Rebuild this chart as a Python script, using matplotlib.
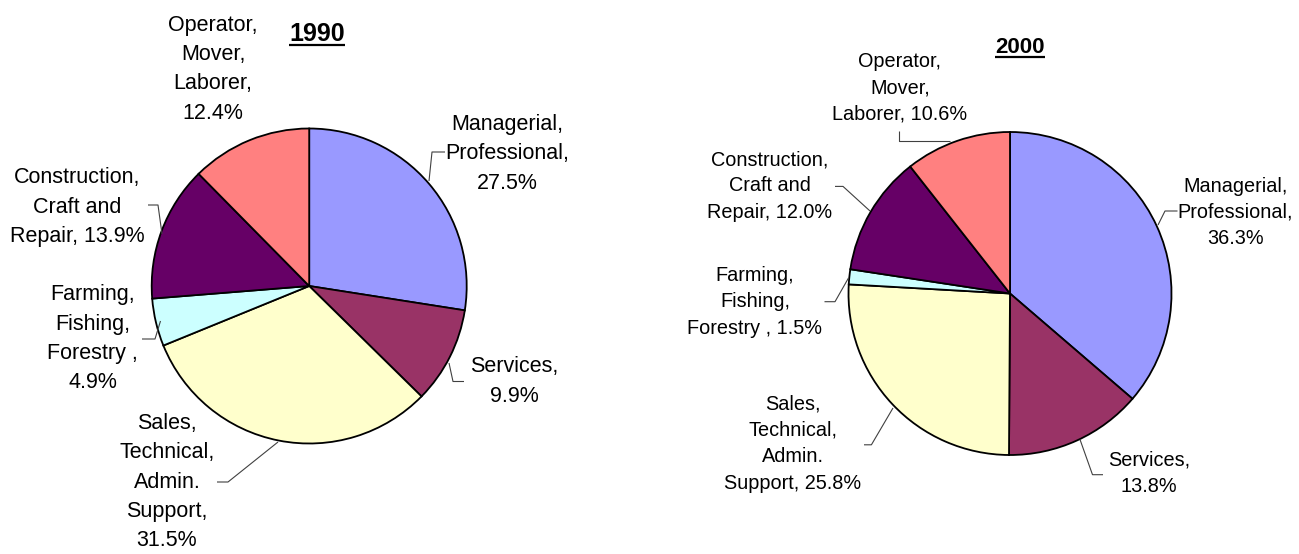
import matplotlib
matplotlib.use("Agg")
import matplotlib.pyplot as plt
from matplotlib.patches import Rectangle

W, H = 1299, 554

# Occupational shares of employment (percent)
categories = [
    "Managerial, Professional",
    "Services",
    "Sales, Technical, Admin. Support",
    "Farming, Fishing, Forestry",
    "Construction, Craft and Repair",
    "Operator, Mover, Laborer",
]
shares_1990 = [27.5, 9.9, 31.5, 4.9, 13.9, 12.4]
shares_2000 = [36.3, 13.8, 25.8, 1.5, 12.0, 10.6]
slice_colors = ["#9999FF", "#993366", "#FFFFCC", "#CCFFFF", "#660066", "#FF8080"]

# Data-label wording with line breaks; {v} receives the share
label_formats_1990 = [
    "Managerial,\nProfessional,\n{v}",
    "Services,\n{v}",
    "Sales,\nTechnical,\nAdmin.\nSupport,\n{v}",
    "Farming,\nFishing,\nForestry ,\n{v}",
    "Construction,\nCraft and\nRepair, {v}",
    "Operator,\nMover,\nLaborer,\n{v}",
]
label_formats_2000 = [
    "Managerial,\nProfessional,\n{v}",
    "Services,\n{v}",
    "Sales,\nTechnical,\nAdmin.\nSupport, {v}",
    "Farming,\nFishing,\nForestry , {v}",
    "Construction,\nCraft and\nRepair, {v}",
    "Operator,\nMover,\nLaborer, {v}",
]

# Page layout in pixels (origin top-left)
layout_1990 = dict(
    title="1990", center=(309.2, 286.0), radius=157.5,
    title_xy=(317, 41), title_size=18, label_size=15.5, line_step=29.3,
    label_xy=[(507, 130), (514, 372.4), (167, 429), (92.5, 300.3), (77.5, 183.5), (213, 30.8)],
    leaders=[
        [(445, 152), (432, 152), (429, 181)],
        [(449, 363), (453, 381.5), (464, 381.5)],
        [(278, 442), (228, 482), (217, 482)],
        [(160.5, 321), (155, 339), (142, 339)],
        [(148, 205), (158, 205), (162, 234)],
        None,
    ],
    clip_left=None,
)
layout_2000 = dict(
    title="2000", center=(1010.0, 293.5), radius=161.5,
    title_xy=(1020, 53), title_size=16, label_size=14.3, line_step=26.4,
    label_xy=[(1235.5, 191.6), (1149, 466), (793, 409.6), (755, 281), (770, 165), (900, 66.8)],
    leaders=[
        [(1177.5, 211), (1165, 211), (1158, 225)],
        [(1080, 439.5), (1092.5, 474.7), (1103, 474.7)],
        [(864, 444.8), (871.4, 444.8), (893, 408)],
        [(824.5, 301.7), (835, 301.7), (848.6, 277.8)],
        [(835, 186.4), (843, 186.4), (870, 211)],
        [(899, 131), (899, 140.5), (950, 140.5)],
    ],
    clip_left=691.5,
)

FONT = "Liberation Sans"


def Y(y):
    return H - y


fig = plt.figure(figsize=(W / 100, H / 100), dpi=100)
fig.patch.set_facecolor("white")
ax = fig.add_axes([0, 0, 1, 1])

titles = []


def draw_chart(shares, formats, lay):
    cx, cy = lay["center"]
    ax.pie(
        shares, colors=slice_colors, startangle=90, counterclock=False,
        center=(cx, Y(cy)), radius=lay["radius"], normalize=True,
        wedgeprops=dict(edgecolor="black", linewidth=1.3),
    )
    clip = None
    if lay["clip_left"] is not None:
        clip = Rectangle((lay["clip_left"], 0), W, H, transform=ax.transData,
                         facecolor="none", edgecolor="none")
    for val, fmt, (lx, ly), leader in zip(shares, formats, lay["label_xy"], lay["leaders"]):
        text = fmt.format(v=f"{val:.1f}%")
        for i, line in enumerate(text.split("\n")):
            t = ax.text(lx, Y(ly + i * lay["line_step"]), line, ha="center", va="baseline",
                        fontsize=lay["label_size"], family=FONT, color="black")
            if clip is not None:
                t.set_clip_path(clip)
        if leader is not None:
            xs = [p[0] for p in leader]
            ys = [Y(p[1]) for p in leader]
            ax.plot(xs, ys, color="#404040", linewidth=0.8, solid_capstyle="butt")
    tx, ty = lay["title_xy"]
    t = ax.text(tx, Y(ty), lay["title"], ha="center", va="baseline",
                fontsize=lay["title_size"], fontweight="bold", family=FONT, color="black")
    titles.append(t)


draw_chart(shares_1990, label_formats_1990, layout_1990)
draw_chart(shares_2000, label_formats_2000, layout_2000)

ax.set_xlim(0, W)
ax.set_ylim(0, H)
ax.set_aspect("auto")
ax.set_axis_off()

# Underline the chart titles
fig.canvas.draw()
renderer = fig.canvas.get_renderer()
inv = ax.transData.inverted()
for t in titles:
    bb = t.get_window_extent(renderer)
    (x0, _), (x1, _) = inv.transform([(bb.x0, bb.y0), (bb.x1, bb.y0)])
    _, base = t.get_position()
    ax.plot([x0, x1], [base - 4, base - 4], color="black", linewidth=1.6,
            solid_capstyle="butt")

fig.savefig("out.png", dpi=100, facecolor="white")
